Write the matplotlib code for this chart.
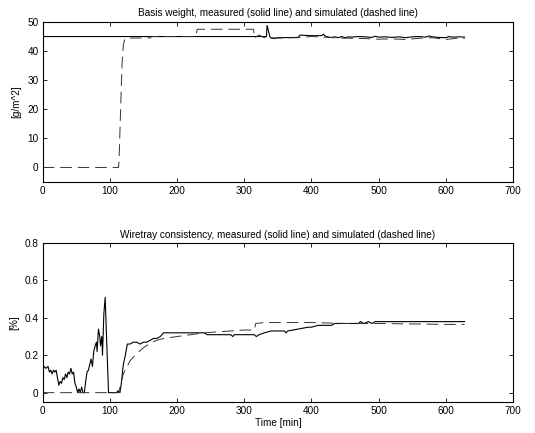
import matplotlib
matplotlib.use("Agg")
import matplotlib.pyplot as plt

plt.rcParams['font.family'] = ['Liberation Sans', 'DejaVu Sans']
plt.rcParams['font.size'] = 7.2

# ---------- basis weight ----------
bw_meas_t = [0, 333, 334, 336, 338, 340, 345, 350, 380, 383, 390, 400, 415, 418, 420, 425,
             430, 435, 440, 445, 450, 455, 460, 470, 480, 490, 495, 500, 510, 520, 530,
             540, 550, 560, 570, 575, 580, 590, 600, 605, 610, 620, 628]
bw_meas_v = [45, 45, 48.8, 47, 45, 44.5, 44.3, 44.6, 44.7, 45.5, 45.4, 45.3, 45.3, 45.8, 45.2, 44.8,
             44.7, 44.9, 44.6, 45.0, 44.6, 44.9, 44.8, 45.0, 44.9, 44.7, 45.1, 44.8, 44.9, 44.7, 44.9,
             44.6, 44.9, 45.0, 44.8, 45.2, 44.9, 44.7, 44.6, 45.0, 44.8, 44.9, 44.8]

bw_sim_t = [0, 113, 114, 116, 118, 120, 122, 125, 160, 162, 228, 230, 314, 315, 318, 322, 330,
            350, 380, 400, 420, 440, 460, 480, 500, 520, 540, 560, 580, 600, 620, 628]
bw_sim_v = [0, 0, 5, 20, 35, 42, 44, 44.5, 44.5, 45, 45, 47.5, 47.5, 44.5, 45, 45.5, 44.6,
            44.5, 44.6, 45.0, 44.8, 44.5, 44.4, 44.3, 44.1, 44.2, 44.0, 44.4, 44.6, 44.0, 44.5, 44.3]

# ---------- wiretray consistency ----------
wc_meas_t = [0, 2, 5, 8, 10, 12, 14, 16, 18, 20, 22, 24, 26, 28, 30, 32, 34, 36, 38, 40, 42, 44,
             46, 48, 50, 52, 54, 56, 58, 60, 62, 64, 66, 68, 70, 72, 74, 76, 78, 80, 81, 83, 85,
             86, 88, 89, 91, 93, 95, 98, 110, 112, 115, 117, 120, 123, 126, 130, 135, 140, 145,
             150, 155, 160, 165, 170, 175, 180, 240, 245, 250, 280, 283, 285, 315, 318, 322, 330,
             340, 360, 362, 365, 380, 395, 400, 410, 430, 435, 470, 473, 478, 485, 490, 495, 628]
wc_meas_v = [0.12, 0.14, 0.13, 0.14, 0.11, 0.12, 0.10, 0.12, 0.11, 0.12, 0.08, 0.04, 0.06, 0.05,
             0.08, 0.07, 0.10, 0.08, 0.11, 0.10, 0.13, 0.10, 0.11, 0.05, 0.03, 0.0, 0.02, 0.0, 0.03,
             0.0, 0.0, 0.06, 0.11, 0.12, 0.15, 0.18, 0.14, 0.22, 0.25, 0.27, 0.22, 0.34, 0.30, 0.25,
             0.30, 0.20, 0.42, 0.51, 0.30, 0.0, 0.0, 0.01, 0.0, 0.05, 0.15, 0.20, 0.26, 0.26, 0.27,
             0.27, 0.26, 0.27, 0.27, 0.28, 0.29, 0.29, 0.30, 0.32, 0.32, 0.31, 0.31, 0.31, 0.30,
             0.31, 0.31, 0.30, 0.31, 0.32, 0.33, 0.33, 0.32, 0.33, 0.34, 0.35, 0.35, 0.36, 0.36,
             0.37, 0.37, 0.38, 0.37, 0.38, 0.37, 0.38, 0.38]

wc_sim_t = [0, 113, 120, 130, 140, 150, 160, 170, 180, 200, 220, 240, 260, 280, 300, 315, 317,
            330, 400, 450, 500, 600, 628]
wc_sim_v = [0, 0, 0.10, 0.17, 0.21, 0.24, 0.265, 0.28, 0.29, 0.30, 0.31, 0.32, 0.325, 0.33,
            0.335, 0.335, 0.37, 0.375, 0.375, 0.37, 0.37, 0.365, 0.365]

fig = plt.figure(figsize=(5.35, 4.33), dpi=100)
ax1 = fig.add_axes([0.0798, 0.5797, 0.879, 0.3695])
ax2 = fig.add_axes([0.0798, 0.0716, 0.879, 0.367])

dash = (0, (12, 6))
for ax in (ax1, ax2):
    ax.tick_params(direction='in', top=True, right=True, length=3, width=0.6, pad=3)
    for s in ax.spines.values():
        s.set_linewidth(0.8)
    ax.set_xlim(0, 700)
    ax.set_xticks(range(0, 701, 100))

ax1.plot(bw_meas_t, bw_meas_v, color='black', lw=0.8)
ax1.plot(bw_sim_t, bw_sim_v, color='#333333', lw=0.7, linestyle=dash)
ax1.set_ylim(-5, 50)
ax1.set_yticks(range(0, 51, 10))
ax1.set_ylabel('[g/m^2]')
ax1.set_title('Basis weight, measured (solid line) and simulated (dashed line)', fontsize=7.2, pad=4)

ax2.plot(wc_meas_t, wc_meas_v, color='black', lw=0.8)
ax2.plot(wc_sim_t, wc_sim_v, color='#333333', lw=0.7, linestyle=dash)
ax2.set_ylim(-0.05, 0.8)
ax2.set_yticks([0, 0.2, 0.4, 0.6, 0.8])
ax2.set_yticklabels(['0', '0.2', '0.4', '0.6', '0.8'])
ax2.set_ylabel('[%]')
ax2.set_xlabel('Time [min]', labelpad=1)
ax2.set_title('Wiretray consistency, measured (solid line) and simulated (dashed line)', fontsize=7.2, pad=4)

fig.savefig('out.png', dpi=100)
